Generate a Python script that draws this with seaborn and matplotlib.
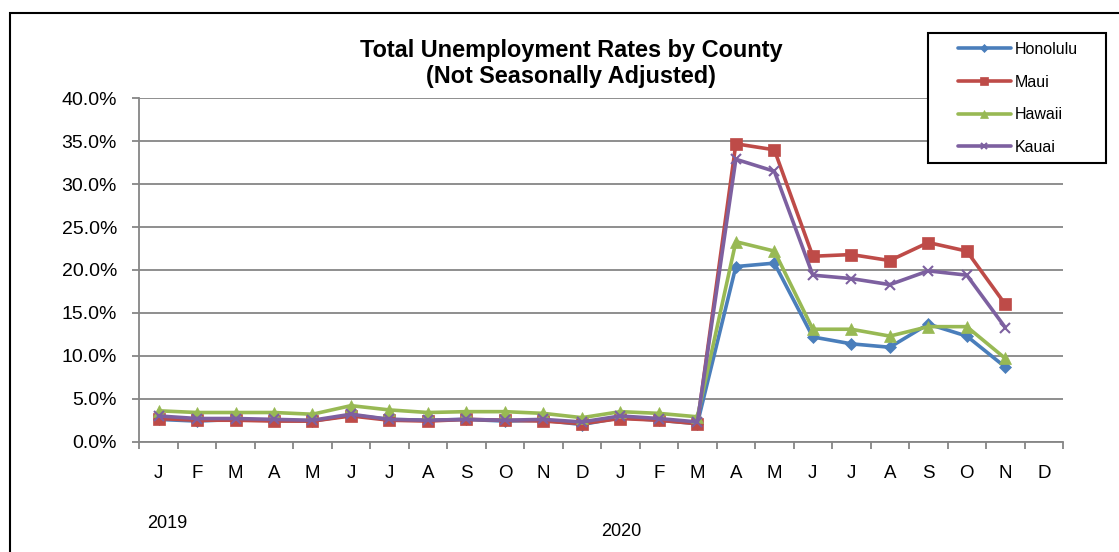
import matplotlib
matplotlib.use("Agg")
import matplotlib.pyplot as plt
import matplotlib.patches as mpatches
from matplotlib.ticker import FixedLocator, FuncFormatter
import seaborn as sns
import numpy as np

# ---- data ----
months = ["J", "F", "M", "A", "M", "J", "J", "A", "S", "O", "N", "D",
          "J", "F", "M", "A", "M", "J", "J", "A", "S", "O", "N", "D"]
years = ["2019", "2020"]
series_names = ["Honolulu", "Maui", "Hawaii", "Kauai"]
honolulu = [2.6, 2.4, 2.6, 2.5, 2.4, 3.1, 2.6, 2.5, 2.6, 2.4, 2.5, 2.0,
            2.8, 2.5, 2.1, 20.4, 20.8, 12.2, 11.4, 11.0, 13.7, 12.3, 8.7]
maui = [2.7, 2.5, 2.5, 2.4, 2.4, 3.0, 2.5, 2.4, 2.6, 2.5, 2.4, 2.1,
        2.7, 2.5, 2.1, 34.7, 34.0, 21.6, 21.8, 21.1, 23.2, 22.2, 16.0]
hawaii = [3.6, 3.4, 3.4, 3.4, 3.2, 4.2, 3.7, 3.4, 3.5, 3.5, 3.3, 2.8,
          3.5, 3.3, 2.9, 23.3, 22.2, 13.1, 13.1, 12.3, 13.4, 13.4, 9.7]
kauai = [3.0, 2.7, 2.7, 2.6, 2.5, 3.2, 2.6, 2.5, 2.6, 2.5, 2.6, 2.3,
         3.0, 2.7, 2.3, 32.9, 31.5, 19.4, 19.0, 18.3, 19.9, 19.4, 13.3]
y_ticks = [0, 5, 10, 15, 20, 25, 30, 35, 40]
title_lines = ["Total Unemployment Rates by County", "(Not Seasonally Adjusted)"]

colors = ["#4A7EBB", "#BE4B48", "#98B954", "#7D60A0"]
markers = ["D", "s", "^", "x"]
msizes = [6, 8, 8, 7]

sns.set_theme(style="white")
plt.rcParams["font.family"] = ["Liberation Sans", "DejaVu Sans"]
plt.rcParams["text.color"] = "black"
plt.rcParams["xtick.color"] = "black"
plt.rcParams["ytick.color"] = "black"

W, H = 1119, 552
fig = plt.figure(figsize=(W / 100, H / 100), dpi=100)
fig.patch.set_facecolor("white")

def fx(px):
    return px / W

def fy(py):
    return 1 - py / H

left, right, top, bottom = 139.3, 1063, 98.3, 441.7
ax = fig.add_axes([fx(left), fy(bottom), fx(right - left), (bottom - top) / H])

grid_c = "#868686"
for name, vals, c, m, ms in zip(series_names, [honolulu, maui, hawaii, kauai], colors, markers, msizes):
    xs = np.arange(len(vals))
    sns.lineplot(x=xs, y=vals, ax=ax, color=c, linewidth=2.6, marker=m,
                 markersize=ms, markeredgecolor=c, markerfacecolor=c,
                 markeredgewidth=1.5 if m == "x" else 0.5, label=name, legend=False)

ax.set_xlim(-0.5, len(months) - 0.5)
ax.set_ylim(0, 40)

# x axis: labels at centers, tick marks at boundaries
ax.xaxis.set_major_locator(FixedLocator(np.arange(len(months))))
ax.set_xticklabels(months, fontsize=13.5)
ax.xaxis.set_minor_locator(FixedLocator(np.arange(len(months) + 1) - 0.5))
ax.tick_params(axis="x", which="major", length=0, pad=17, labelcolor="black")
ax.tick_params(axis="x", which="minor", length=5, width=1.3, color=grid_c, bottom=True)

ax.yaxis.set_major_locator(FixedLocator(y_ticks))
ax.yaxis.set_major_formatter(FuncFormatter(lambda v, p: f"{v:.1f}%"))
ax.tick_params(axis="y", which="major", length=5, width=1.3, color=grid_c, labelsize=14,
               pad=11, left=True, labelcolor="black")

ax.grid(axis="y", color=grid_c, linewidth=1.3)
ax.grid(axis="x", visible=False)
ax.set_axisbelow(True)
for s in ["top", "right"]:
    ax.spines[s].set_visible(False)
for s in ["left", "bottom"]:
    ax.spines[s].set_color(grid_c)
    ax.spines[s].set_linewidth(1.3)
ax.set_xlabel("")
ax.set_ylabel("")

# title
fig.text(fx(571), fy(56.5), title_lines[0], ha="center", va="baseline",
         fontsize=16.9, fontweight="bold", color="black")
fig.text(fx(571), fy(83), title_lines[1], ha="center", va="baseline",
         fontsize=16.9, fontweight="bold", color="black")

# year labels
fig.text(fx(167), fy(524), years[0], ha="center", va="center", fontsize=13, color="black")
fig.text(fx(621), fy(532), years[1], ha="center", va="center", fontsize=13, color="black")

# outer chart border
fig.patches.append(mpatches.Rectangle((fx(10), fy(600)), fx(1200), (600 - 13) / H,
                                      transform=fig.transFigure, fill=False,
                                      edgecolor="black", linewidth=1.5))

# legend box
fig.patches.append(mpatches.Rectangle((fx(928), fy(163)), fx(1106 - 928), (163 - 33) / H,
                                      transform=fig.transFigure, facecolor="white",
                                      edgecolor="black", linewidth=1.5, zorder=5))
handles, labels = ax.get_legend_handles_labels()
leg = fig.legend(handles, labels, loc="upper left",
                 bbox_to_anchor=(fx(958), fy(42)), bbox_transform=fig.transFigure,
                 frameon=False, borderpad=0, borderaxespad=0, fontsize=11.5,
                 handlelength=3.3, handletextpad=0.25, labelspacing=1.1, numpoints=1,
                 markerscale=0.7)
leg.set_zorder(6)

fig.savefig("out.png", dpi=100)
